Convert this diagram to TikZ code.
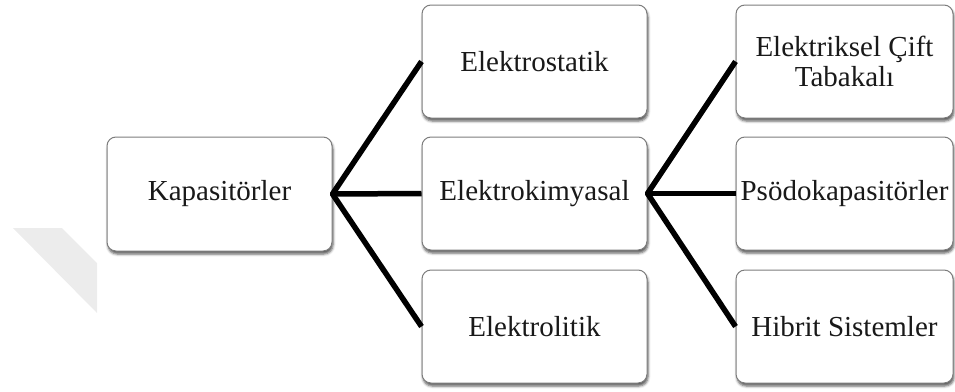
\documentclass[tikz,border=0pt]{standalone}
\usepackage{fontspec}
\setmainfont{Liberation Serif}
\usetikzlibrary{shadows.blur}

\definecolor{boxline}{RGB}{125,125,125}
\definecolor{textcol}{RGB}{25,25,25}
\definecolor{markgray}{RGB}{236,236,236}

\tikzset{
  catbox/.style={
    rectangle, rounded corners=9pt, draw=boxline, line width=1pt,
    fill=white, text=textcol, align=center, inner sep=0pt,
    minimum height=113pt,
    font=\fontsize{29}{30}\selectfont,
    blur shadow={shadow xshift=1pt, shadow yshift=-3pt,
                 shadow blur radius=2.5pt, shadow opacity=65}
  },
  midbox/.style={catbox, minimum width=225pt},
  rightbox/.style={catbox, minimum width=217pt},
  branch/.style={line width=5.5pt, black, line join=round, line cap=butt}
}

\begin{document}
\begin{tikzpicture}[x=1pt, y=-1pt]
  \useasboundingbox (0,0) rectangle (955,391);

  % faint diagonal band in the lower left
  \fill[markgray] (13,228) -- (62,228) -- (97,263) -- (97,313) -- cycle;

  % root
  \node[midbox, minimum height=114pt] (kap) at (219.5,194) {Kapasitörler};

  % second level
  \node[midbox] (stat) at (534.5,61.5)  {Elektrostatik};
  \node[midbox] (kim)  at (534.5,193.5) {Elektrokimyasal};
  \node[midbox] (lit)  at (534.5,326.5) {Elektrolitik};

  % third level
  \node[rightbox] (cift) at (844.5,61.5)  {Elektriksel Çift\\Tabakalı};
  \node[rightbox] (psd)  at (844.5,193.5) {Psödokapasitörler};
  \node[rightbox] (hib)  at (844.5,326.5) {Hibrit Sistemler};

  % branches
  \draw[branch] (stat.west) -- (kap.east) -- (lit.west);
  \draw[branch] (kap.east) -- (kim.west);
  \draw[branch] (cift.west) -- (kim.east) -- (hib.west);
  \draw[branch] (kim.east) -- (psd.west);
\end{tikzpicture}
\end{document}
